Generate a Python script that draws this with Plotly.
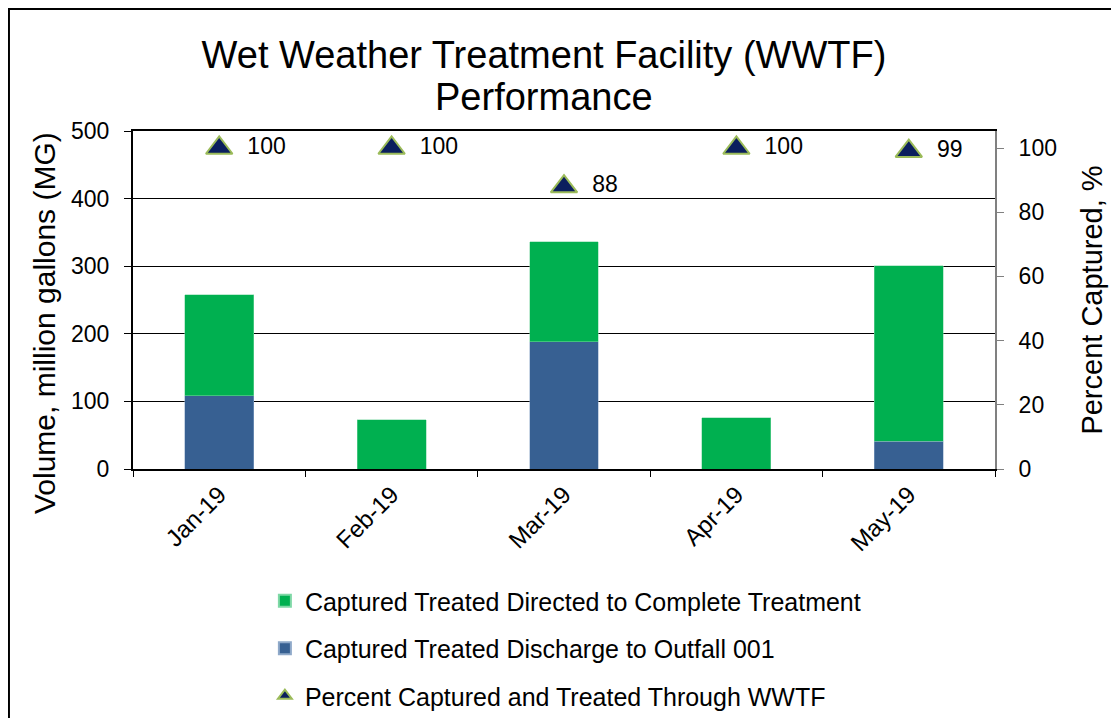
import plotly.graph_objects as go

months = ["Jan-19", "Feb-19", "Mar-19", "Apr-19", "May-19"]
discharge_001 = [108, 0, 188, 0, 41]
complete_treatment = [150, 73, 148, 76, 260]
percent_captured = [100, 100, 88, 100, 99]

green = "#00B050"
blue = "#376092"
navy = "#0B1F5E"
olive = "#9BBB59"
font = "Liberation Sans, Arial, sans-serif"

fig = go.Figure()

# blue goes first so it sits at the bottom of the stack
fig.add_trace(go.Bar(
    x=months, y=discharge_001,
    name="Captured Treated Discharge to Outfall 001",
    marker=dict(color=blue, line=dict(color="#8fa9c9", width=0.5)),
    width=0.4,
    legendgroup="b", legendrank=2
))
fig.add_trace(go.Bar(
    x=months, y=complete_treatment,
    name="Captured Treated Directed to Complete Treatment",
    marker=dict(color=green, line=dict(color="#7fd8a6", width=0.5)),
    width=0.4,
    legendgroup="a", legendrank=1
))
fig.add_trace(go.Scatter(
    x=months, y=percent_captured,
    yaxis="y2",
    mode="markers+text",
    text=["  " + str(v) for v in percent_captured],
    textposition="middle right",
    textfont=dict(size=23, color="black"),
    marker=dict(symbol="triangle-up", size=23, color=navy,
                line=dict(color=olive, width=2)),
    name="Percent Captured and Treated Through WWTF",
    legendgroup="c", legendrank=3
))

fig.update_layout(
    width=1119, height=718,
    barmode="stack",
    font=dict(family=font, size=23, color="black"),
    title=dict(
        text="Wet Weather Treatment Facility (WWTF)",
        x=0.479, xanchor="center", y=0.9345, yanchor="middle",
        font=dict(size=38)
    ),
    paper_bgcolor="white",
    plot_bgcolor="white",
    # page adds ~8px body margin, margins below compensate
    margin=dict(l=125, r=132, t=123, b=257, autoexpand=False),
    xaxis=dict(
        type="category",
        tickangle=-45,
        tickson="boundaries",
        ticks="outside", ticklen=6, tickcolor="black",
        showline=True, linecolor="black", linewidth=2, mirror=True,
        showgrid=False,
        tickfont=dict(size=24)
    ),
    yaxis=dict(
        range=[0, 500], dtick=100,
        showgrid=True, gridcolor="black", gridwidth=1,
        showline=True, linecolor="black", linewidth=2,
        ticks="outside", ticklen=7, tickcolor="black",
        ticklabelstandoff=10,
        zeroline=False,
        tickfont=dict(size=23)
    ),
    yaxis2=dict(
        title=dict(text="Percent Captured, %", font=dict(size=29), standoff=26),
        overlaying="y", side="right",
        range=[0, 105.3], tickvals=[0, 20, 40, 60, 80, 100],
        showgrid=False, zeroline=False,
        showline=True, linecolor="#808080", linewidth=2,
        ticks="outside", ticklen=7, tickcolor="#808080",
        ticklabelstandoff=10,
        tickfont=dict(size=23)
    ),
    legend=dict(
        orientation="v",
        traceorder="grouped",
        x=0.153, xanchor="left",
        y=-0.3225, yanchor="top",
        font=dict(size=25),
        tracegroupgap=12,
        itemsizing="constant",
        bgcolor="rgba(0,0,0,0)"
    ),
    annotations=[
        dict(text="Performance", xref="paper", yref="paper",
             x=0.4768, y=1.1006, xanchor="center", yanchor="middle",
             showarrow=False, font=dict(size=38)),
        dict(text="Volume, million gallons (MG)", xref="paper", yref="paper",
             x=-0.102, y=0.432, xanchor="center", yanchor="middle",
             textangle=-90, showarrow=False, font=dict(size=30)),
    ],
    shapes=[dict(
        type="rect", xref="paper", yref="paper",
        x0=-0.1439, x1=1.16, y0=-0.8, y1=1.361,
        line=dict(color="black", width=2)
    )],
    showlegend=True
)

fig.write_html("out.html")
